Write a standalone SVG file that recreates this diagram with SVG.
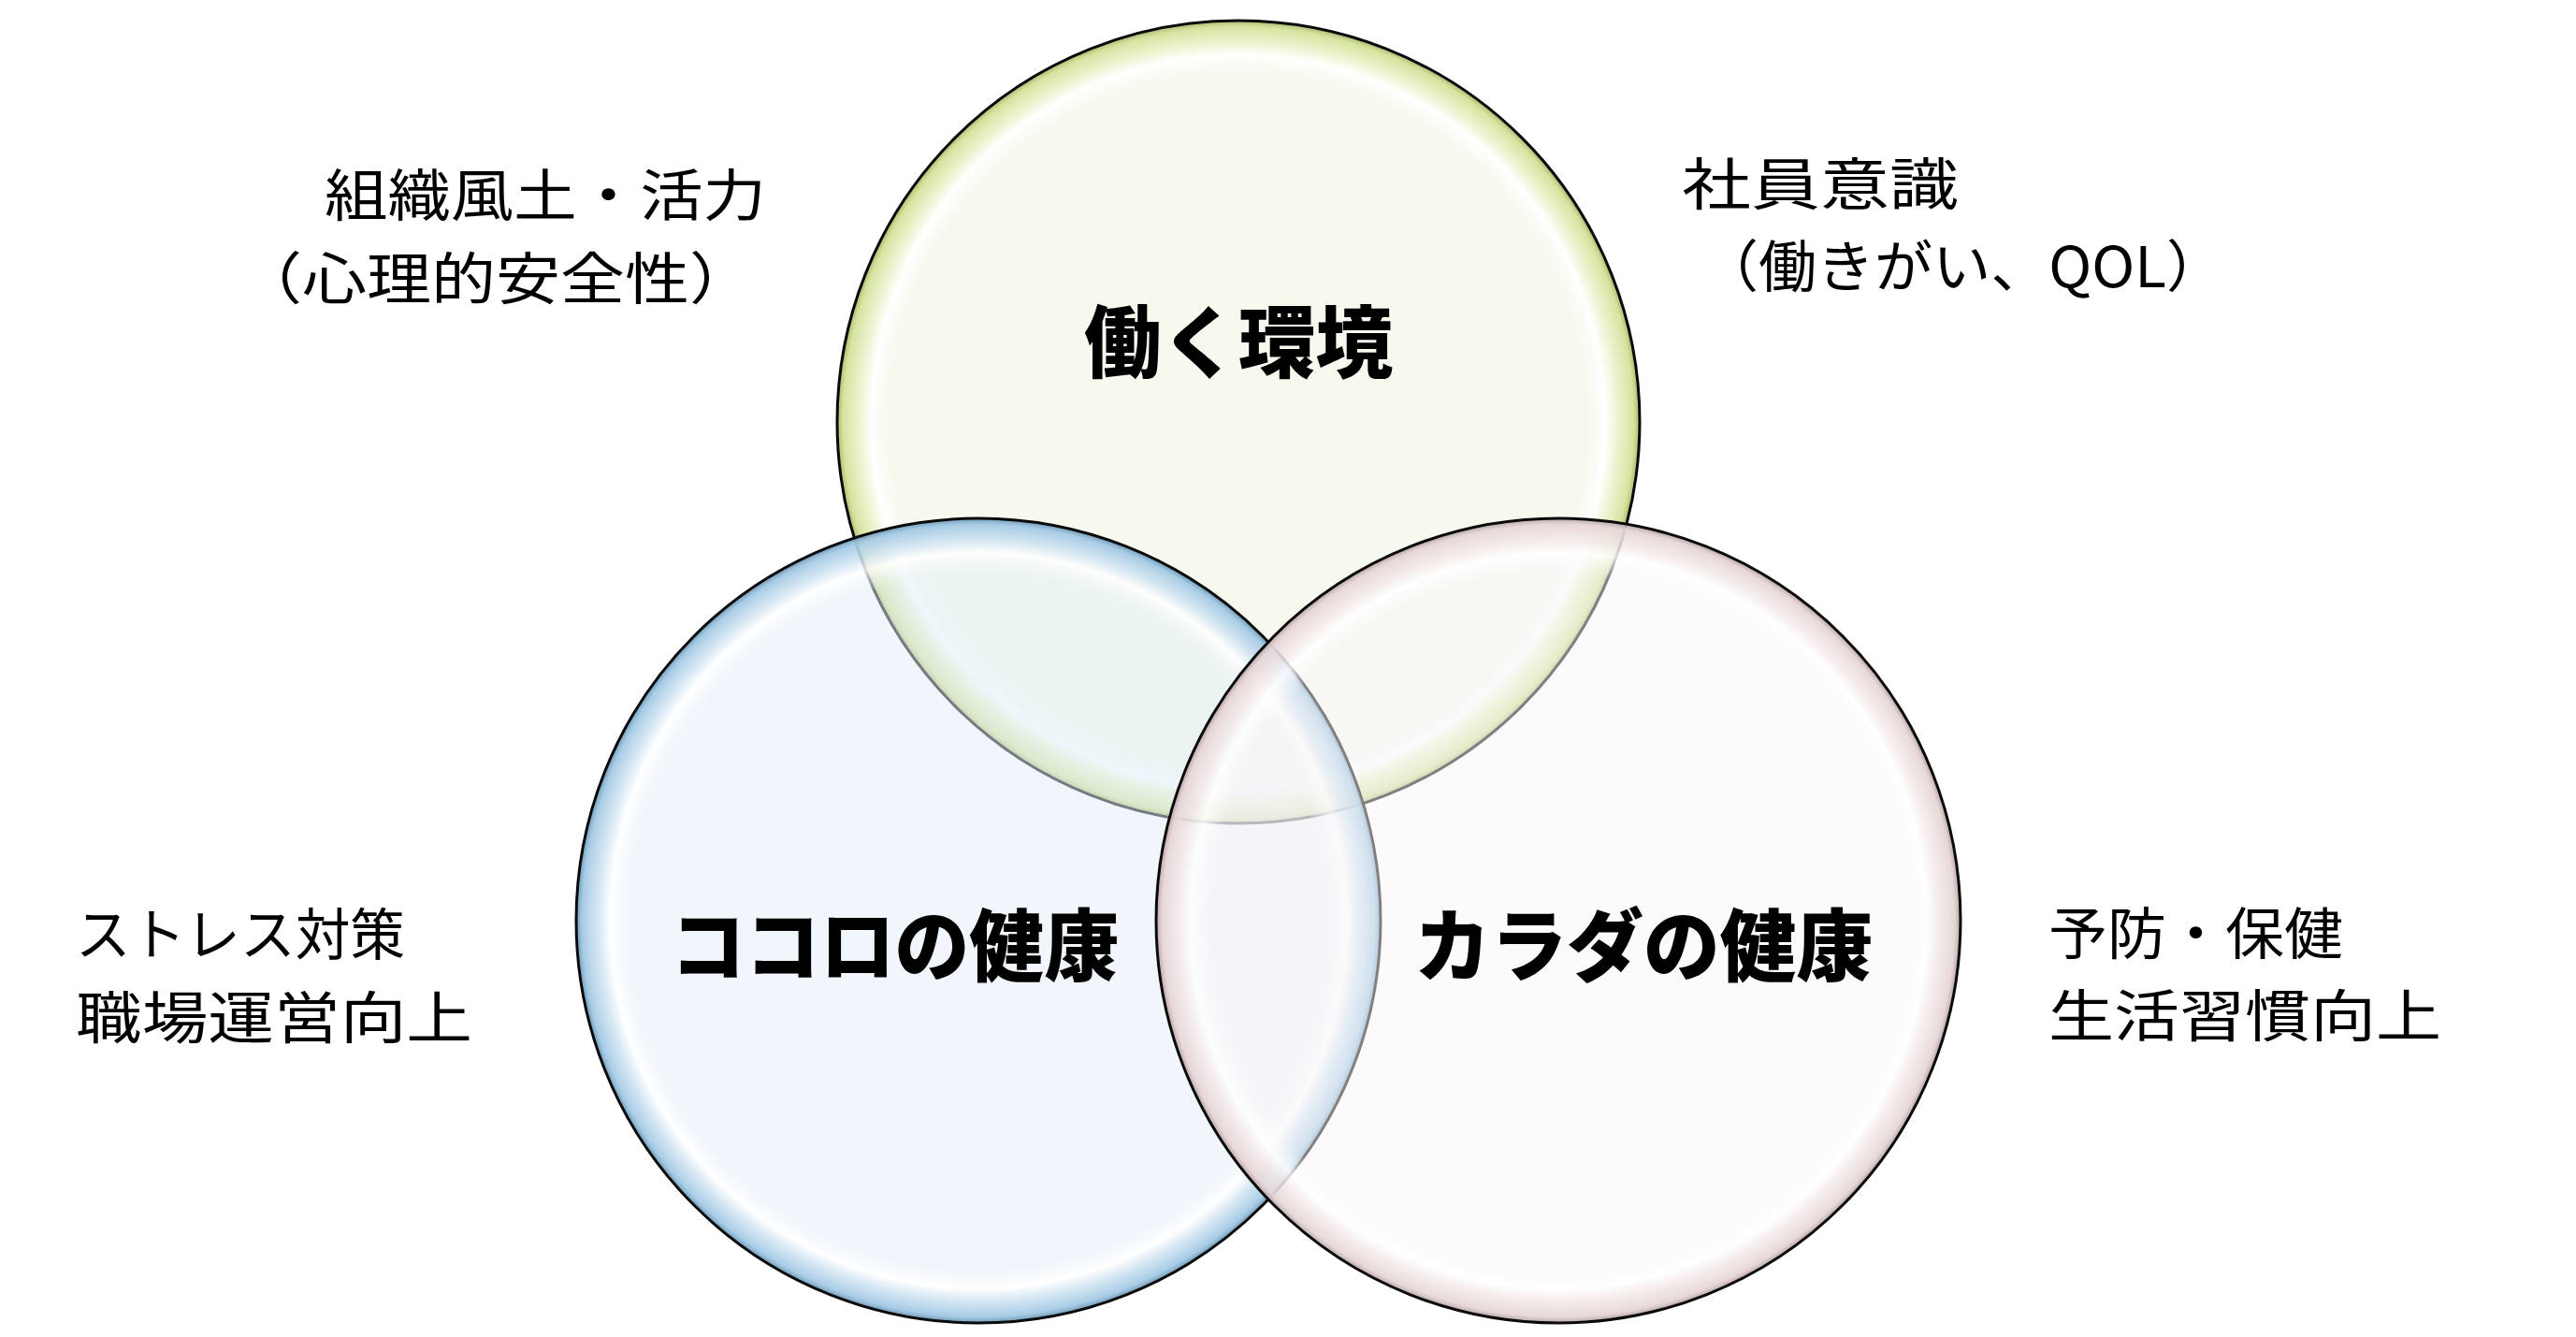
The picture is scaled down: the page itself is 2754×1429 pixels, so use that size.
<svg xmlns="http://www.w3.org/2000/svg" width="2754" height="1429" viewBox="0 0 2754 1429">
<style>
.ring{stroke:#0a0a0a;stroke-width:3}
.title{font-family:"Noto Sans CJK JP","Noto Sans CJK SC",sans-serif;font-weight:900;font-size:84px;fill:#000}
.note{font-family:"Noto Sans CJK JP","Noto Sans CJK SC",sans-serif;font-weight:400;font-size:60px;fill:#000}
</style>
<defs>
<radialGradient id="gTop" cx="0.5" cy="0.5" r="0.5">
<stop offset="0" stop-color="#EFF3DF" stop-opacity="0.5"/>
<stop offset="0.86" stop-color="#EFF3DF" stop-opacity="0.5"/>
<stop offset="0.915" stop-color="#FFFFFF" stop-opacity="0.85"/>
<stop offset="0.945" stop-color="#E9F1C6" stop-opacity="0.85"/>
<stop offset="0.985" stop-color="#D3E29A" stop-opacity="0.95"/>
<stop offset="1" stop-color="#A9B86E" stop-opacity="1"/>
</radialGradient>
<radialGradient id="gLeft" cx="0.5" cy="0.5" r="0.5">
<stop offset="0" stop-color="#E1EDF7" stop-opacity="0.5"/>
<stop offset="0.86" stop-color="#E1EDF7" stop-opacity="0.5"/>
<stop offset="0.915" stop-color="#FFFFFF" stop-opacity="0.85"/>
<stop offset="0.945" stop-color="#CFE3F2" stop-opacity="0.85"/>
<stop offset="0.985" stop-color="#A3C9E4" stop-opacity="0.95"/>
<stop offset="1" stop-color="#6F9AB8" stop-opacity="1"/>
</radialGradient>
<radialGradient id="gRight" cx="0.5" cy="0.5" r="0.5">
<stop offset="0" stop-color="#F9F5F7" stop-opacity="0.5"/>
<stop offset="0.86" stop-color="#F9F5F7" stop-opacity="0.5"/>
<stop offset="0.915" stop-color="#FFFFFF" stop-opacity="0.85"/>
<stop offset="0.945" stop-color="#F3E9E9" stop-opacity="0.85"/>
<stop offset="0.985" stop-color="#E6D6D6" stop-opacity="0.95"/>
<stop offset="1" stop-color="#B8A5A5" stop-opacity="1"/>
</radialGradient>
</defs>
<rect width="2754" height="1429" fill="#FFFFFF"/>
<g id="node-work">
<circle class="ring" cx="1324" cy="451" r="429" fill="url(#gTop)"/>
</g>
<g id="node-mind">
<circle class="ring" cx="1046" cy="984" r="430" fill="url(#gLeft)"/>
</g>
<g id="node-body">
<circle class="ring" cx="1666" cy="984" r="430" fill="url(#gRight)"/>
</g>
<g id="labels-circles">
<text class="title" x="1159" y="397" textLength="330" lengthAdjust="spacingAndGlyphs">働く環境</text>
<text class="title" x="717" y="1042" textLength="479" lengthAdjust="spacingAndGlyphs">ココロの健康</text>
<text class="title" x="1512" y="1042" textLength="490" lengthAdjust="spacingAndGlyphs">カラダの健康</text>
</g>
<g id="note-culture">
<text class="note" x="347" y="231" textLength="472" lengthAdjust="spacingAndGlyphs">組織風土・活力</text>
<text class="note" x="254" y="320" textLength="552" lengthAdjust="spacingAndGlyphs">（心理的安全性）</text>
</g>
<g id="note-awareness">
<text class="note" x="1798" y="219" textLength="296" lengthAdjust="spacingAndGlyphs">社員意識</text>
<text class="note" x="1818" y="307" textLength="560" lengthAdjust="spacingAndGlyphs">（働きがい、QOL）</text>
</g>
<g id="note-stress">
<text class="note" x="81" y="1021" textLength="352" lengthAdjust="spacingAndGlyphs">ストレス対策</text>
<text class="note" x="81" y="1110" textLength="424" lengthAdjust="spacingAndGlyphs">職場運営向上</text>
</g>
<g id="note-prevention">
<text class="note" x="2190" y="1020" textLength="315" lengthAdjust="spacingAndGlyphs">予防・保健</text>
<text class="note" x="2190" y="1108" textLength="420" lengthAdjust="spacingAndGlyphs">生活習慣向上</text>
</g>
</svg>
